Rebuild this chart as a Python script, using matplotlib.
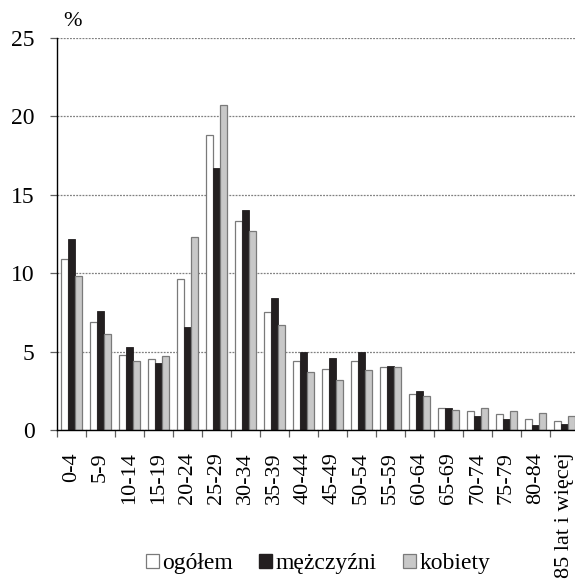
import matplotlib
matplotlib.use("Agg")
import matplotlib.pyplot as plt
import numpy as np
from matplotlib.patches import Patch

categories = ["0-4", "5-9", "10-14", "15-19", "20-24", "25-29", "30-34", "35-39",
              "40-44", "45-49", "50-54", "55-59", "60-64", "65-69", "70-74",
              "75-79", "80-84", "85 lat i więcej"]
ogolem = [10.9, 6.9, 4.8, 4.5, 9.6, 18.8, 13.3, 7.5, 4.4, 3.9, 4.4, 4.0, 2.3, 1.4, 1.2, 1.0, 0.7, 0.6]
mezczyzni = [12.2, 7.6, 5.3, 4.3, 6.6, 16.7, 14.0, 8.4, 5.0, 4.6, 5.0, 4.1, 2.5, 1.4, 0.9, 0.7, 0.3, 0.4]
kobiety = [9.8, 6.1, 4.4, 4.7, 12.3, 20.7, 12.7, 6.7, 3.7, 3.2, 3.8, 4.0, 2.2, 1.3, 1.4, 1.2, 1.1, 0.9]
yticks = [0, 5, 10, 15, 20, 25]
series_names = ["ogółem", "mężczyźni", "kobiety"]

plt.rcParams['font.family'] = ['Liberation Serif', 'DejaVu Serif']

fig = plt.figure(figsize=(5.75, 5.85), dpi=100)
ax = fig.add_axes([57/575, 1-430/585, 522/575, 392/585])

x = np.arange(len(categories))
w = 0.235
ax.bar(x - w, ogolem, w, color='white', edgecolor='#7a7a7a', linewidth=0.9, zorder=3)
ax.bar(x, mezczyzni, w, color='#231f20', edgecolor='#231f20', linewidth=0.6, zorder=3)
ax.bar(x + w, kobiety, w, color='#c8c8c8', edgecolor='#7a7a7a', linewidth=0.9, zorder=3)

ax.set_xlim(-0.5, len(categories) - 0.5)
ax.set_ylim(0, 25)
ax.set_yticks(yticks)
ax.set_yticklabels([str(t) for t in yticks], fontsize=17)
ax.yaxis.grid(True, color='#808080', linestyle=(0, (1.5, 1)), linewidth=0.9, zorder=0)
ax.tick_params(axis='y', length=5, width=0.9, color='#606060', pad=11)

ax.set_xticks(x)
ax.set_xticklabels(categories, rotation=90, fontsize=16)
ax.set_xticks(np.arange(len(categories) + 1) - 0.5, minor=True)
ax.tick_params(axis='x', which='major', length=0, pad=16)
ax.tick_params(axis='x', which='minor', length=5, width=0.9, color='#606060')

for s in ['top', 'right']:
    ax.spines[s].set_visible(False)
ax.spines['left'].set_linewidth(1.0)
ax.spines['bottom'].set_linewidth(1.0)
ax.spines['bottom'].set_zorder(4)

fig.text(73/575, 1-21/585, "%", fontsize=16, ha='center', va='center')

handles = [Patch(facecolor='white', edgecolor='#7a7a7a', linewidth=0.9),
           Patch(facecolor='#231f20', edgecolor='#231f20'),
           Patch(facecolor='#c8c8c8', edgecolor='#7a7a7a', linewidth=0.9)]
fig.legend(handles, series_names, loc='center', bbox_to_anchor=(318/575, 1-564/585),
           ncol=3, frameon=False, fontsize=17, handlelength=0.55, handleheight=0.55,
           handletextpad=0.15, columnspacing=1.1, borderpad=0)

fig.savefig("out.png", dpi=100)
